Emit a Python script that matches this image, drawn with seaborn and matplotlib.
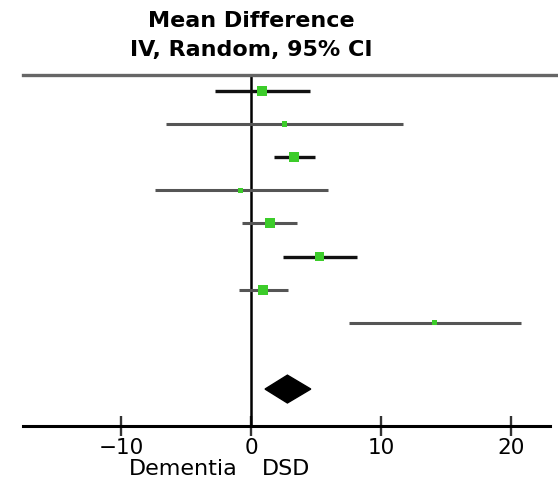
import matplotlib
matplotlib.use("Agg")
import matplotlib.pyplot as plt
import seaborn as sns
import pandas as pd

# Study-level estimates (mean difference, 95% CI)
study = ["S1", "S2", "S3", "S4", "S5", "S6", "S7", "S8"]
md = [0.85, 2.55, 3.3, -0.8, 1.46, 5.3, 0.95, 14.1]
ci_lo = [-2.8, -6.55, 1.77, -7.4, -0.7, 2.46, -0.9, 7.5]
ci_hi = [4.5, 11.7, 4.9, 5.9, 3.5, 8.15, 2.85, 20.8]
weight = [12.5, 5.0, 15.0, 5.0, 14.0, 12.0, 14.0, 4.5]
line_dark = [True, False, True, False, False, True, False, False]

# Pooled estimate
pooled_md = 2.8
pooled_lo = 1.08
pooled_hi = 4.6

tick_values = [-10, 0, 10, 20]
favours_left = "Dementia"
favours_right = "DSD"
title_lines = ["Mean Difference", "IV, Random, 95% CI"]

sns.set_theme(style="white")
plt.rcParams['font.family'] = ['DejaVu Sans']
plt.rcParams['text.color'] = 'black'
plt.rcParams['xtick.color'] = 'black'

df = pd.DataFrame({"study": study, "md": md, "lo": ci_lo, "hi": ci_hi,
                   "weight": weight, "dark": line_dark})
df["row"] = range(len(df))

fig = plt.figure(figsize=(5.58, 4.84), dpi=100)
ax = fig.add_axes([23 / 558, 1 - 425.5 / 484, 1 - 23 / 558, (425.5 - 75) / 484])

x_left = (23 - 251) / 13.0
x_right = (558 - 251) / 13.0
ax.set_xlim(x_left, x_right)
ax.set_ylim(10.1, -0.48)

# CI lines
for _, r in df.iterrows():
    ax.hlines(r["row"], r["lo"], r["hi"],
              color="#111111" if r["dark"] else "#555555",
              lw=2.4 if r["dark"] else 2.2, zorder=2)

# zero line
ax.axvline(0, color="black", lw=1.8, zorder=1)

# point estimates
sns.scatterplot(data=df, x="md", y="row", size="weight", sizes=(12, 55),
                size_norm=(min(weight), max(weight)), marker="s",
                color="#3ccc2a", edgecolor="none", legend=False, ax=ax, zorder=3)

# pooled diamond
pooled_row = len(df) + 1
ax.fill([pooled_lo, pooled_md, pooled_hi, pooled_md],
        [pooled_row, pooled_row - 0.42, pooled_row, pooled_row + 0.42],
        color="black", zorder=3)

# spines
for s in ["left", "right"]:
    ax.spines[s].set_visible(False)
ax.spines["top"].set_color("#666666")
ax.spines["top"].set_linewidth(2.4)
ax.spines["bottom"].set_color("black")
ax.spines["bottom"].set_linewidth(2.2)
ax.spines["bottom"].set_bounds(x_left, (550 - 251) / 13.0)

ax.set_yticks([])
ax.set_xticks(tick_values)
ax.set_xticklabels([str(v).replace("-", "\u2212") for v in tick_values])
ax.tick_params(axis="x", direction="inout", length=14, width=1.7,
               color="#333333", labelcolor="black", labelsize=15.5, pad=2, bottom=True)
ax.set_xlabel("")
ax.set_ylabel("")

# favours labels
ax.text(-1.0, -0.125, favours_left, transform=ax.get_xaxis_transform(),
        ha="right", va="center", fontsize=16, color="black")
ax.text(0.85, -0.125, favours_right, transform=ax.get_xaxis_transform(),
        ha="left", va="center", fontsize=16, color="black")

# header
ax.text(0, 1.155, title_lines[0], transform=ax.get_xaxis_transform(),
        ha="center", va="center", fontsize=16, fontweight="bold", color="black")
ax.text(0, 1.07, title_lines[1], transform=ax.get_xaxis_transform(),
        ha="center", va="center", fontsize=16, fontweight="bold", color="black")

fig.savefig("out.png", dpi=100)
